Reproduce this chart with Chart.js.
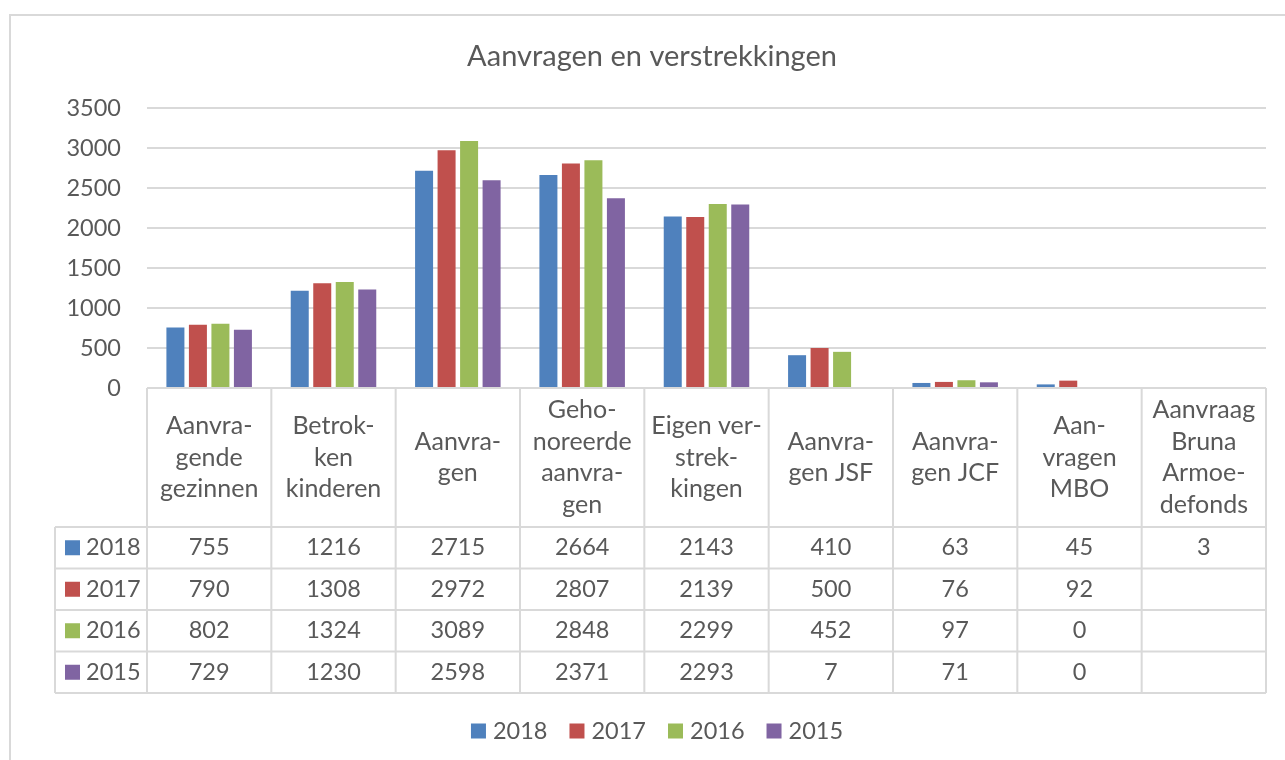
<!DOCTYPE html>
<html>
<head>
<meta charset="utf-8">
<script src="https://cdn.jsdelivr.net/npm/chart.js@4.4.0/dist/chart.umd.min.js"></script>
<style>
  html, body { margin: 0; padding: 0; background: #fff; }
  #wrap { width: 1285px; height: 760px; }
</style>
</head>
<body>
<div id="wrap"><canvas id="chart" width="1285" height="760"></canvas></div>
<script>
const title = "Aanvragen en verstrekkingen";
const categories = [
  ["Aanvra-", "gende", "gezinnen"],
  ["Betrok-", "ken", "kinderen"],
  ["Aanvra-", "gen"],
  ["Geho-", "noreerde", "aanvra-", "gen"],
  ["Eigen ver-", "strek-", "kingen"],
  ["Aanvra-", "gen JSF"],
  ["Aanvra-", "gen JCF"],
  ["Aan-", "vragen", "MBO"],
  ["Aanvraag", "Bruna", "Armoe-", "defonds"],
];
const years = ["2018", "2017", "2016", "2015"];
const values2018 = [755, 1216, 2715, 2664, 2143, 410, 63, 45, 3];
const values2017 = [790, 1308, 2972, 2807, 2139, 500, 76, 92, null];
const values2016 = [802, 1324, 3089, 2848, 2299, 452, 97, 0, null];
const values2015 = [729, 1230, 2598, 2371, 2293, 7, 71, 0, null];
const colors = ["#4f81bd", "#c0504d", "#9bbb59", "#8064a2"];
const yTicks = [0, 500, 1000, 1500, 2000, 2500, 3000, 3500];

const FONT = "Lato, 'Open Sans', sans-serif";
const TEXT = "#595959";
const LINE = "#d9d9d9";
const NUM_SIZE = 23.5;
const HEAD_SIZE = 25;

const seriesValues = [values2018, values2017, values2016, values2015];

// title, data table and legend drawn around the plot
const tablePlugin = {
  id: "dataTable",
  afterDraw(chart) {
    const ctx = chart.ctx;
    const x = chart.scales.x;
    const area = chart.chartArea;
    const n = categories.length;
    const colW = x.width / n;
    const top = area.bottom;
    const headerH = 139;
    const rowH = 41.5;
    const legendLeft = 55;
    const bottom = top + headerH + rowH * years.length;

    ctx.save();
    // outer frame
    ctx.strokeStyle = LINE;
    ctx.lineWidth = 2;
    ctx.strokeRect(10, 15, 1400, 900);

    // title
    ctx.fillStyle = TEXT;
    ctx.font = "29px " + FONT;
    ctx.textAlign = "center";
    ctx.textBaseline = "middle";
    ctx.fillText(title, 652, 57);

    // table grid
    ctx.strokeStyle = LINE;
    ctx.lineWidth = 2;
    ctx.beginPath();
    for (let i = 0; i <= n; i++) {
      const px = x.getPixelForValue(0) - colW / 2 + i * colW;
      ctx.moveTo(px, top);
      ctx.lineTo(px, bottom);
    }
    ctx.moveTo(area.left, top);
    ctx.lineTo(area.right, top);
    ctx.moveTo(legendLeft, top + headerH);
    ctx.lineTo(legendLeft, bottom);
    for (let r = 0; r <= years.length; r++) {
      const py = top + headerH + r * rowH;
      ctx.moveTo(legendLeft, py);
      ctx.lineTo(area.right, py);
    }
    ctx.stroke();

    // header text
    ctx.fillStyle = TEXT;
    ctx.font = HEAD_SIZE + "px " + FONT;
    const lh = 31.6;
    categories.forEach((lines, i) => {
      const cx = x.getPixelForValue(i);
      const cy = top + headerH / 2;
      lines.forEach((t, k) => {
        ctx.fillText(t, cx, cy + (k - (lines.length - 1) / 2) * lh);
      });
    });

    // rows
    ctx.font = NUM_SIZE + "px " + FONT;
    years.forEach((yr, r) => {
      const cy = top + headerH + r * rowH + rowH / 2;
      ctx.fillStyle = colors[r];
      ctx.fillRect(65, cy - 7.5, 15, 15);
      ctx.fillStyle = TEXT;
      ctx.textAlign = "left";
      ctx.fillText(yr, 86, cy);
      ctx.textAlign = "center";
      seriesValues[r].forEach((v, i) => {
        if (v !== null) ctx.fillText(String(v), x.getPixelForValue(i), cy);
      });
    });

    // legend
    const gap = 22;
    const widths = years.map((yr) => 15 + 7 + ctx.measureText(yr).width);
    const total = widths.reduce((a, b) => a + b, 0) + gap * (years.length - 1);
    let lx = 657 - total / 2;
    const ly = 731;
    years.forEach((yr, r) => {
      ctx.fillStyle = colors[r];
      ctx.fillRect(lx, ly - 7.5, 15, 15);
      ctx.fillStyle = TEXT;
      ctx.textAlign = "left";
      ctx.fillText(yr, lx + 22, ly);
      lx += widths[r] + gap;
    });
    ctx.restore();
  },
};

new Chart(document.getElementById("chart"), {
  type: "bar",
  data: {
    labels: categories,
    datasets: years.map((yr, r) => ({
      label: yr,
      data: seriesValues[r],
      backgroundColor: colors[r],
      borderWidth: 0,
      barPercentage: 0.8,
      categoryPercentage: 0.724,
    })),
  },
  options: {
    responsive: false,
    animation: false,
    layout: { padding: { left: 0, right: 19, top: 108, bottom: 372 } },
    plugins: {
      legend: { display: false },
      title: { display: false },
      tooltip: { enabled: false },
    },
    scales: {
      x: { display: false },
      y: {
        min: 0,
        max: 3500,
        afterBuildTicks(scale) {
          scale.ticks = yTicks.map((v) => ({ value: v }));
        },
        afterFit(scale) {
          scale.width = 147;
        },
        ticks: {
          padding: 26,
          color: TEXT,
          font: { family: FONT, size: NUM_SIZE },
          callback: (v) => String(v),
        },
        grid: { color: LINE, lineWidth: 2, drawTicks: false },
        border: { display: false },
      },
    },
  },
  plugins: [tablePlugin],
});
</script>
</body>
</html>
